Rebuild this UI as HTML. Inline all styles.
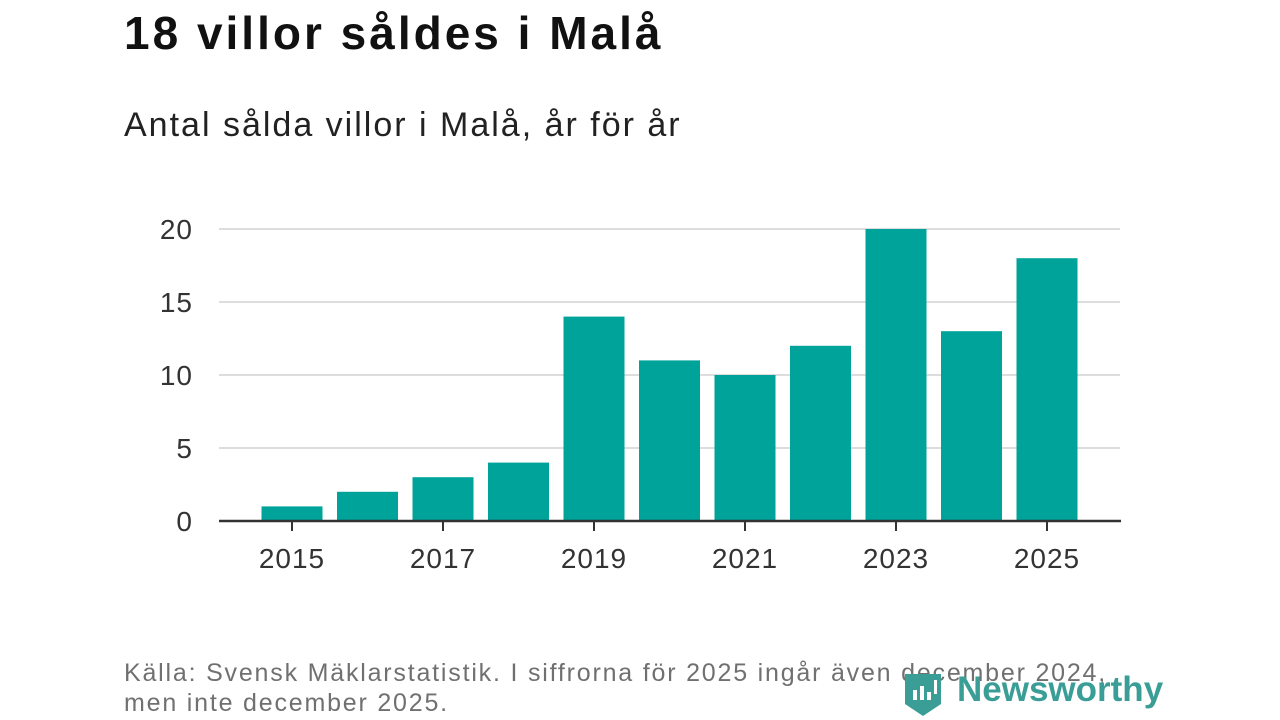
<!DOCTYPE html>
<html><head><meta charset="utf-8"><style>
body{margin:0;width:1280px;height:720px;background:#fff;font-family:"Liberation Sans",sans-serif;overflow:hidden;position:relative}
.t{position:absolute;left:124px;top:6px;font-size:46px;font-weight:bold;color:#111;letter-spacing:3px}
.s{position:absolute;left:124px;top:106px;font-size:34px;color:#222;letter-spacing:2px}
.f{position:absolute;left:124px;top:658px;font-size:25px;color:#707070;line-height:30px;letter-spacing:1.8px;white-space:nowrap}
</style></head><body>
<div class="t">18 villor såldes i Malå</div>
<div class="s">Antal sålda villor i Malå, år för år</div>
<svg id="c" width="1280" height="720" style="position:absolute;left:0;top:0"></svg>
<div class="f">Källa: Svensk Mäklarstatistik. I siffrorna för 2025 ingår även december 2024,<br>men inte december 2025.</div>
<div style="position:absolute;left:903px;top:670px;width:260px;height:50px">
<svg width="40" height="50" style="position:absolute;left:0;top:0"><path d="M2 4h36v30l-18 12-18-12z" fill="#3a9e97"/><rect x="10" y="20" width="4" height="10" fill="#fff"/><rect x="17" y="16" width="4" height="14" fill="#fff"/><rect x="24" y="22" width="4" height="8" fill="#fff"/><rect x="31" y="10" width="3" height="14" fill="#fff"/></svg>
<span style="position:absolute;left:54px;top:0;font-size:35px;font-weight:bold;color:#3a9e97">Newsworthy</span></div>
<script>
const years=[2015,2016,2017,2018,2019,2020,2021,2022,2023,2024,2025];
const values=[1,2,3,4,14,11,10,12,20,13,18];
const yTicks=[0,5,10,15,20];
const xLabels=[2015,2017,2019,2021,2023,2025];
const svg=document.getElementById('c'),NS='http://www.w3.org/2000/svg';
const y=v=>521-v*14.6, x=i=>292+i*75.5;
function mk(t,a){const e=document.createElementNS(NS,t);for(const k in a)e.setAttribute(k,a[k]);svg.appendChild(e);return e;}
yTicks.forEach(v=>{
 if(v>0){const g=mk('line',{x1:219,x2:1120,y1:y(v),y2:y(v),stroke:'#ddd','stroke-width':2});
 
 }
 const t=mk('text',{x:193,y:y(v)+10,'text-anchor':'end','font-size':28,fill:'#333','font-family':'Liberation Sans, sans-serif','letter-spacing':1});t.textContent=v;
 
 
});
values.forEach((v,i)=>{
 const r=mk('rect',{x:x(i)-30.5,y:y(v),width:61,height:521-y(v),fill:'#00a39a'});
 
 
});
const ax=mk('line',{x1:219,x2:1121,y1:521,y2:521,stroke:'#333','stroke-width':2.5});


xLabels.forEach(yr=>{
 const i=years.indexOf(yr);
 const tk=mk('line',{x1:x(i),x2:x(i),y1:521,y2:531,stroke:'#333','stroke-width':2});
 
 
 const t=mk('text',{x:x(i),y:568,'text-anchor':'middle','font-size':28,fill:'#333','font-family':'Liberation Sans, sans-serif','letter-spacing':1});t.textContent=yr;
 
 
});
</script>
</body></html>
